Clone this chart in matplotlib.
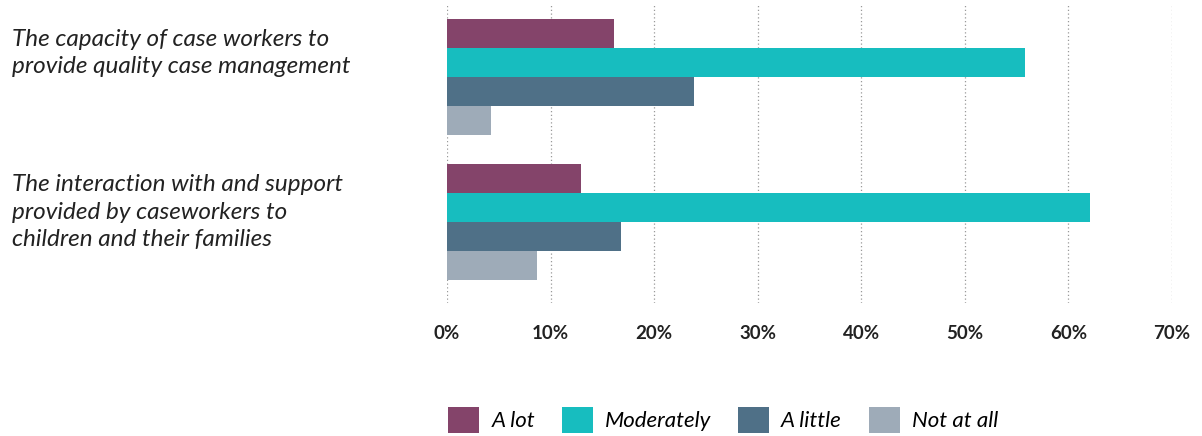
import numpy as np
import matplotlib.pyplot as plt
from matplotlib.patches import Patch

# --- data ---
categories = ['The capacity of case workers to\nprovide quality case management',
              'The interaction with and support\nprovided by caseworkers to\nchildren and their families']
series = ['A lot', 'Moderately', 'A little', 'Not at all']
a_lot = [16.1, 12.9]
moderately = [55.8, 62.1]
a_little = [23.8, 16.8]
not_at_all = [4.2, 8.7]
colors = ['#84446a', '#17bdbf', '#4f7087', '#9eabb8']
x_ticks = [0, 10, 20, 30, 40, 50, 60, 70]

plt.rcParams['font.family'] = ['Lato', 'DejaVu Sans']

fig = plt.figure(figsize=(12.02, 4.36), dpi=100)
ax = fig.add_axes([447 / 1202, 1 - 303 / 436, 725 / 1202, 298 / 436])

y = np.arange(len(categories))
h = 0.2
for i, (vals, c) in enumerate(zip([a_lot, moderately, a_little, not_at_all], colors)):
    ax.barh(y + (i - 1.5) * h, vals, height=h, color=c, zorder=2)

ax.set_xlim(0, 70)
ax.set_ylim(1.56, -0.5)
ax.set_xticks(x_ticks)
ax.set_xticklabels([f'{t}%' for t in x_ticks], fontsize=13.5, fontweight='bold', color='#222222')
ax.tick_params(axis='x', length=0, pad=16)
ax.set_yticks([])
for s in ax.spines.values():
    s.set_visible(False)
ax.grid(axis='x', linestyle=(0, (1, 2)), color='#999999', linewidth=0.9, zorder=0)

# category labels, left aligned like the original
fig.text(12 / 1202, 1 - 53 / 436, categories[0], ha='left', va='center',
         fontsize=17.5, style='italic', color='#222222', linespacing=1.4)
fig.text(12 / 1202, 1 - 212 / 436, categories[1], ha='left', va='center',
         fontsize=17.5, style='italic', color='#222222', linespacing=1.4)

handles = [Patch(facecolor=c, label=s) for s, c in zip(series, colors)]
fig.legend(handles=handles, loc='center', bbox_to_anchor=(723 / 1202, 1 - 420 / 436),
           ncol=4, frameon=False, prop={'size': 16, 'style': 'italic'},
           handlelength=1.4, handleheight=1.4, columnspacing=1.2, handletextpad=0.55)

fig.savefig('out.png', dpi=100)
